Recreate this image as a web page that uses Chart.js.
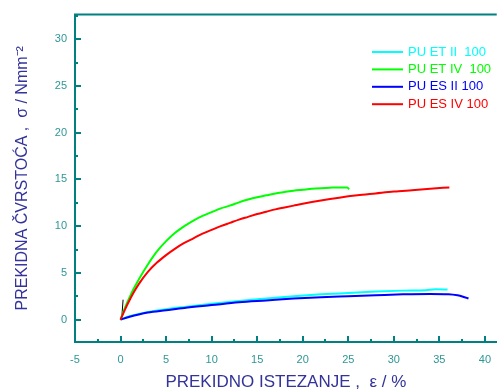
<!DOCTYPE html>
<html>
<head>
<meta charset="utf-8">
<script src="https://cdn.jsdelivr.net/npm/chart.js@4.4.1/dist/chart.umd.min.js"></script>
<style>
    html, body { margin: 0; padding: 0; background: #fff; }
    #wrap { width: 502px; height: 391px; }
</style>
</head>
<body>
<div id="wrap"><canvas id="chart"></canvas></div>
<script>
// strain (%) / stress (N/mm2)
const etIIStrain = [0, 1, 2, 3, 5, 7, 10, 13, 16, 19, 22, 25, 28, 31, 33.5, 34.6, 35.9];
const etIIStress = [0, 0.35, 0.6, 0.8, 1.1, 1.35, 1.7, 2.0, 2.25, 2.5, 2.7, 2.85, 3.0, 3.1, 3.15, 3.25, 3.22];

const etIVStrain = [0, 0.5, 1, 1.5, 2, 3, 4, 5, 6, 7, 8, 9, 10, 11, 12, 13, 14, 15, 16, 17, 18, 19, 20, 21, 22, 23, 24, 24.9, 25.1];
const etIVStress = [0, 1.3, 2.4, 3.4, 4.3, 5.9, 7.3, 8.4, 9.3, 10.0, 10.6, 11.1, 11.5, 11.9, 12.2, 12.55, 12.85, 13.1, 13.3, 13.5, 13.65, 13.8, 13.9, 14.0, 14.07, 14.12, 14.15, 14.15, 13.95];

const esIIStrain = [0, 1, 2, 3, 5, 7, 10, 13, 16, 19, 22, 25, 28, 31, 34, 36, 37, 37.6, 38.2];
const esIIStress = [0, 0.3, 0.55, 0.75, 1.0, 1.25, 1.55, 1.85, 2.05, 2.25, 2.4, 2.5, 2.6, 2.7, 2.75, 2.72, 2.6, 2.45, 2.25];

const esIVStrain = [0, 0.5, 1, 1.5, 2, 3, 4, 5, 6, 7, 8, 9, 10, 11, 12, 13, 14, 15, 16, 17, 18, 19, 20, 22, 24, 26, 28, 30, 32, 34, 36.1];
const esIVStress = [0, 1.1, 2.1, 3.0, 3.8, 5.1, 6.1, 6.9, 7.6, 8.2, 8.7, 9.2, 9.6, 10.0, 10.35, 10.7, 11.0, 11.3, 11.55, 11.8, 12.0, 12.2, 12.4, 12.75, 13.05, 13.3, 13.5, 13.7, 13.85, 14.0, 14.15];

// little black mark near the origin
const markStrain = [0.14, 0.28];
const markStress = [0.28, 2.13];

const seriesLabels = ['PU ET II  100', 'PU ET IV  100', 'PU ES II 100', 'PU ES IV 100'];
const seriesColors = ['#00ffff', '#00ff00', '#0000ff', '#ff0000'];

const xTicks = [-5, 0, 5, 10, 15, 20, 25, 30, 35, 40];
const yTicks = [0, 5, 10, 15, 20, 25, 30];

const axisColor = '#008080';
const tickColor = '#2f9696';
const titleColor = '#33339a';
const fontFamily = '"Liberation Sans", Arial, sans-serif';

function pts(xs, ys) {
    return xs.map((x, i) => ({ x: x, y: ys[i] }));
}

// inward ticks, minor ticks, top frame line and legend
const framePlugin = {
    id: 'frame',
    afterDraw(chart) {
        const { ctx, chartArea, scales } = chart;
        const xs = scales.x, ys = scales.y;
        ctx.save();
        ctx.strokeStyle = axisColor;
        ctx.lineWidth = 2;
        ctx.beginPath();
        ctx.moveTo(chartArea.left - 1, chartArea.top);
        ctx.lineTo(chartArea.right, chartArea.top);
        ctx.stroke();

        ctx.beginPath();
        for (let v = -5; v <= 41; v += 2.5) {
            const px = Math.round(xs.getPixelForValue(v));
            const len = (v % 5 === 0) ? 6 : 3;
            ctx.moveTo(px, chartArea.bottom);
            ctx.lineTo(px, chartArea.bottom - len);
        }
        for (let v = 0; v <= 32.5; v += 2.5) {
            const py = Math.round(ys.getPixelForValue(v));
            const len = (v % 5 === 0) ? 6 : 3;
            ctx.moveTo(chartArea.left, py);
            ctx.lineTo(chartArea.left + len, py);
        }
        ctx.stroke();

        ctx.font = '13px ' + fontFamily;
        ctx.textBaseline = 'middle';
        ctx.textAlign = 'left';
        seriesLabels.forEach((label, i) => {
            const y = 52 + i * 17.4;
            ctx.strokeStyle = seriesColors[i];
            ctx.lineWidth = 2;
            ctx.beginPath();
            ctx.moveTo(372, y);
            ctx.lineTo(403, y);
            ctx.stroke();
            ctx.fillStyle = seriesColors[i];
            ctx.fillText(label, 408, y);
        });
        ctx.restore();
    }
};

const ctx = document.getElementById('chart');

const chart = new Chart(ctx, {
    type: 'line',
    data: {
        datasets: [
            { label: seriesLabels[0], data: pts(etIIStrain, etIIStress), borderColor: seriesColors[0], order: 3 },
            { label: seriesLabels[1], data: pts(etIVStrain, etIVStress), borderColor: seriesColors[1], order: 2 },
            { label: seriesLabels[2], data: pts(esIIStrain, esIIStress), borderColor: seriesColors[2], order: 1 },
            { label: seriesLabels[3], data: pts(esIVStrain, esIVStress), borderColor: seriesColors[3], order: 0 },
            { label: 'mark', data: pts(markStrain, markStress), borderColor: '#000000', borderWidth: 1, order: 5 }
        ]
    },
    options: {
        responsive: true,
        maintainAspectRatio: false,
        animation: false,
        datasets: {
            line: {
                pointRadius: 0,
                borderWidth: 2,
                fill: false,
                cubicInterpolationMode: 'monotone'
            }
        },
        layout: {
            padding: { top: 12, right: 0, left: 0, bottom: 0 }
        },
        plugins: {
            legend: { display: false },
            tooltip: { enabled: false }
        },
        scales: {
            x: {
                type: 'linear',
                min: -5,
                max: 41.3,
                afterBuildTicks: (scale) => { scale.ticks = xTicks.map(v => ({ value: v })); },
                afterFit: (scale) => { scale.height = 49; },
                grid: { display: false, drawTicks: false },
                border: { display: true, color: axisColor, width: 2 },
                ticks: {
                    padding: 11,
                    color: tickColor,
                    font: { family: fontFamily, size: 11 },
                    maxRotation: 0
                },
                title: {
                    display: true,
                    text: 'PREKIDNO ISTEZANJE ,  ε / %',
                    color: titleColor,
                    font: { family: fontFamily, size: 17, lineHeight: 1 },
                    padding: 0
                }
            },
            y: {
                type: 'linear',
                min: -2.4,
                max: 32.65,
                afterBuildTicks: (scale) => { scale.ticks = yTicks.map(v => ({ value: v })); },
                afterFit: (scale) => { scale.width = 75; },
                grid: { display: false, drawTicks: false },
                border: { display: true, color: axisColor, width: 2 },
                ticks: {
                    padding: 8,
                    color: tickColor,
                    font: { family: fontFamily, size: 11 }
                },
                title: {
                    display: true,
                    text: 'PREKIDNA ČVRSTOĆA ,  σ / Nmm⁻²',
                    color: titleColor,
                    font: { family: fontFamily, size: 16, lineHeight: 1 },
                    padding: { top: 15, bottom: 0 }
                }
            }
        }
    },
    plugins: [framePlugin]
});
</script>
</body>
</html>
